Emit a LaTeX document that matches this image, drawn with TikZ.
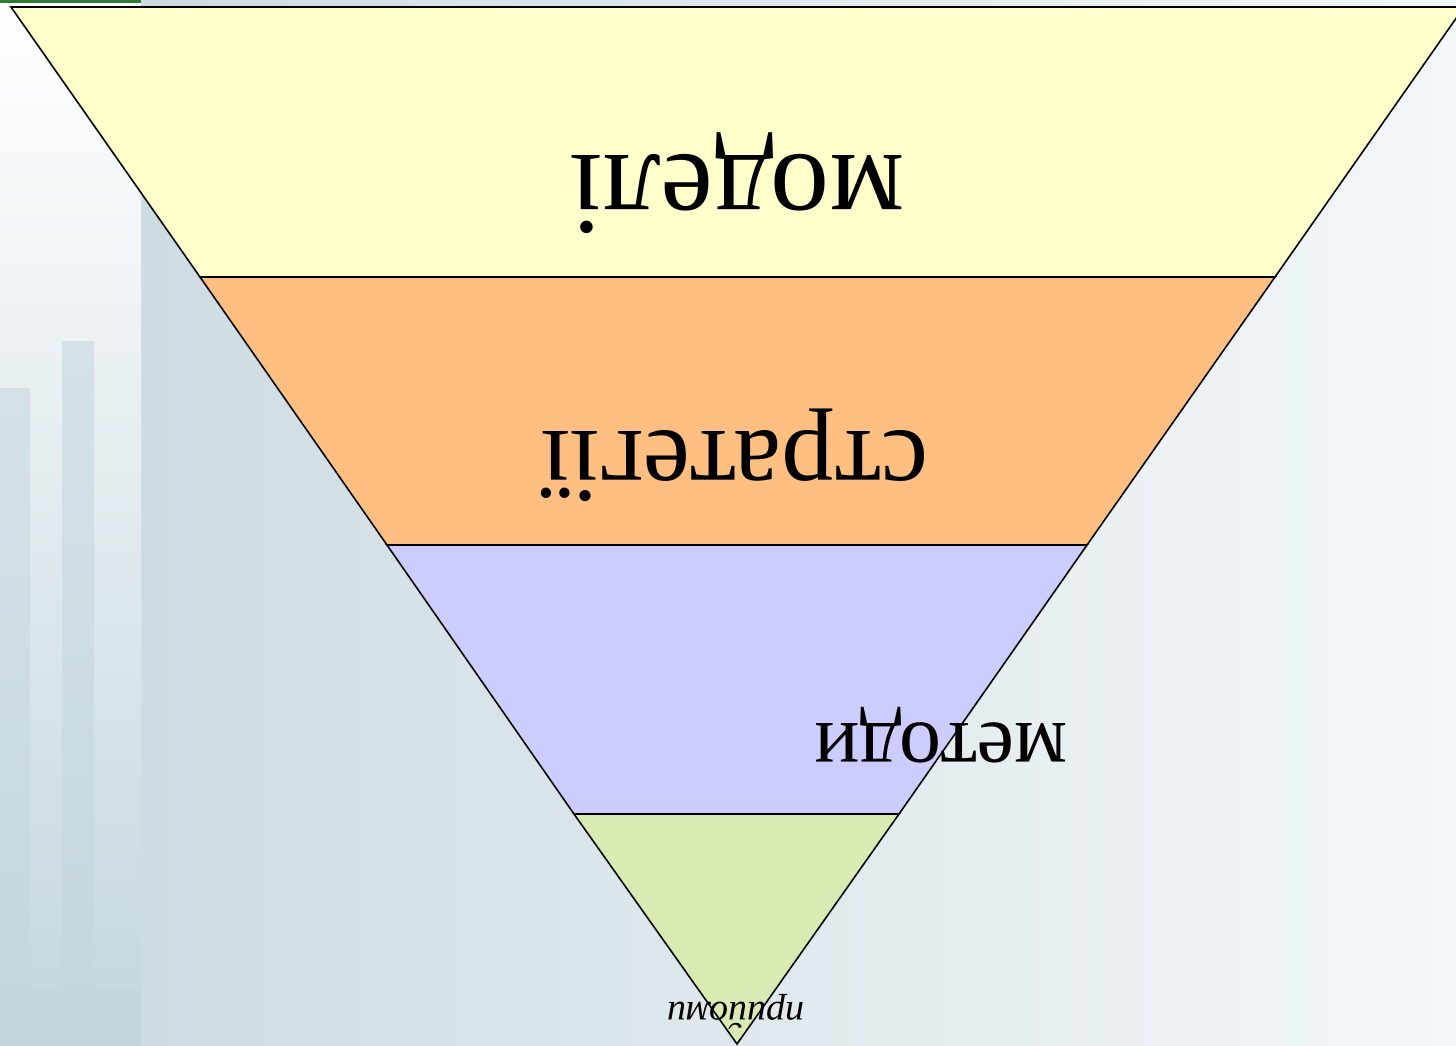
\documentclass[tikz,border=0pt]{standalone}
\usepackage{fontspec}
\setmainfont{Liberation Serif}
\definecolor{bandA}{HTML}{FFFFCC}
\definecolor{bandB}{HTML}{FFBF80}
\definecolor{bandC}{HTML}{CCCCFF}
\definecolor{bandD}{HTML}{D9EAB3}
\definecolor{bgL}{HTML}{CDDCE2}
\definecolor{bgR}{HTML}{F4F7F9}
\definecolor{colTop}{HTML}{FFFFFF}
\definecolor{colBot}{HTML}{C3D6DD}
\definecolor{barTop}{HTML}{D4E2E7}
\definecolor{barBot}{HTML}{C3D6DD}
\definecolor{topgreen}{HTML}{2E7D32}
\begin{document}
\begin{tikzpicture}[x=0.5pt,y=-0.5pt,
  band/.style={draw=black,line width=0.8pt,line join=miter},
  lbl/.style={rotate=180,anchor=base,inner sep=0pt,text=black}]
\useasboundingbox (0,0) rectangle (1456,1045);
\begin{scope}
\clip (0,0) rectangle (1456,1045);
% background
\shade[left color=bgL,right color=bgR] (141,0) rectangle (1456,1045);
\shade[top color=colTop,bottom color=colBot] (0,0) rectangle (141,1045);
\shade[top color=barTop,bottom color=barBot] (0,388) rectangle (30,1045);
\shade[top color=barTop,bottom color=barBot] (62,341) rectangle (94,1045);
\fill[barBot] (0,990) rectangle (141,1045);
\fill[topgreen] (0,0) rectangle (141,3);
% bands
\coordinate (AP) at (737,1044);
\path[band,fill=bandA] (11,7) -- (1464,7) -- (1275,277) -- (200,277) -- cycle;
\path[band,fill=bandB] (200,277) -- (1275,277) -- (1087,545) -- (387,545) -- cycle;
\path[band,fill=bandC] (387,545) -- (1087,545) -- (899,814) -- (574,814) -- cycle;
\path[band,fill=bandD] (574,814) -- (899,814) -- (AP) -- cycle;
\end{scope}
% labels
\node[lbl,font=\fontsize{59}{59}\selectfont] (m1) at (737,155) {моделі};
\node[lbl,font=\fontsize{53}{53}\selectfont] (m2) at (735,431) {стратегії};
\node[lbl,font=\fontsize{42}{42}\selectfont] (m3) at (941,723) {методи};
\node[lbl,font=\fontsize{19}{19}\selectfont\itshape] (m4) at (736,1002) {прийоми};
\end{tikzpicture}
\end{document}
